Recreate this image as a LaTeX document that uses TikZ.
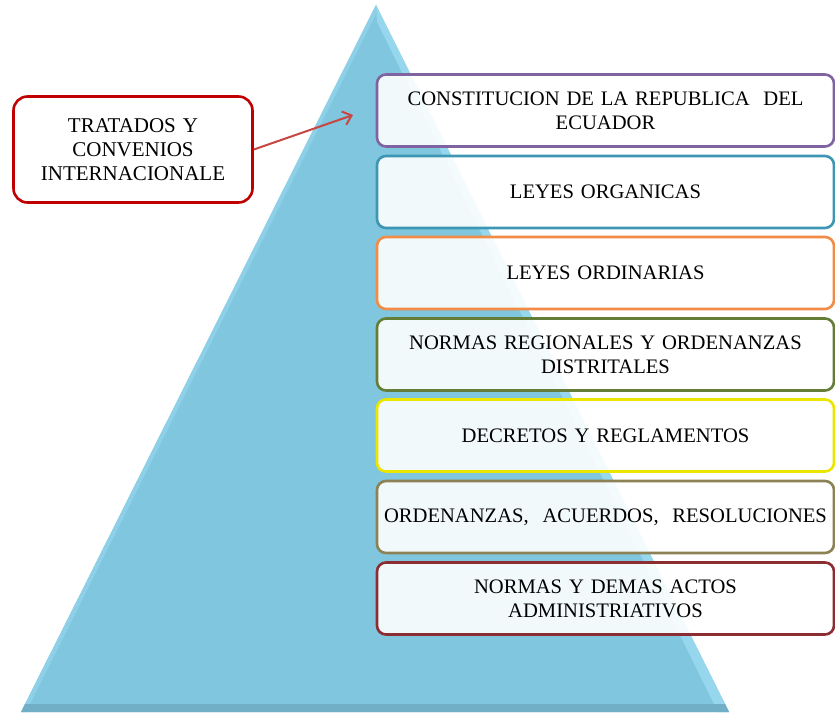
\documentclass[tikz,border=0pt]{standalone}
\usepackage{fontspec}
\setmainfont{Liberation Serif}
\usetikzlibrary{arrows.meta}
\definecolor{pyr}{RGB}{128,198,222}
\definecolor{pyrlight}{RGB}{150,215,238}
\definecolor{pyrdark}{RGB}{112,175,198}
\definecolor{cPurple}{RGB}{128,100,162}
\definecolor{cTeal}{RGB}{60,150,180}
\definecolor{cOrange}{RGB}{240,140,70}
\definecolor{cOlive}{RGB}{100,125,55}
\definecolor{cYellow}{RGB}{235,230,0}
\definecolor{cKhaki}{RGB}{140,130,85}
\definecolor{cDark}{RGB}{140,45,50}
\definecolor{cRed}{RGB}{192,0,0}
\definecolor{cArrow}{RGB}{200,70,65}
\tikzset{
  level/.style={draw=#1, line width=2.6pt, rounded corners=9pt, fill=white, fill opacity=0.9, text opacity=1,
    minimum width=457pt, minimum height=72pt, text width=448pt, align=center, inner sep=0pt,
    font=\fontsize{20.6}{24}\selectfont},
  sidebox/.style={draw=cRed, line width=2.6pt, rounded corners=14pt, fill=white,
    minimum width=239pt, minimum height=106pt, text width=232pt, align=center, inner sep=0pt,
    font=\fontsize{21}{24}\selectfont},
  link/.style={draw=cArrow, line width=2pt, -{Straight Barb[length=8pt,width=14pt]}}
}
\begin{document}
\begin{tikzpicture}[x=1pt,y=-1pt]
\useasboundingbox (0,0) rectangle (835,713);
% pyramid
\fill[pyr] (376,5) -- (729,712) -- (21,712) -- cycle;
\fill[pyrlight] (376,5) -- (729,712) -- (718,712) -- (377,22) -- cycle;
\fill[pyrlight!60!pyr] (376,5) -- (21,712) -- (26,712) -- (376,14) -- cycle;
\fill[pyrdark] (21,712) -- (729,712) -- (725,704) -- (25,704) -- cycle;
% levels
\node[level=cPurple] (l1) at (605.5,110.5) {CONSTITUCION DE LA REPUBLICA~ DEL\\ECUADOR};
\node[level=cTeal] (l2) at (605.5,192) {LEYES ORGANICAS};
\node[level=cOrange] (l3) at (605.5,273) {LEYES ORDINARIAS};
\node[level=cOlive] (l4) at (605.5,354.5) {NORMAS REGIONALES Y ORDENANZAS\\DISTRITALES};
\node[level=cYellow] (l5) at (605.5,435.5) {DECRETOS Y REGLAMENTOS};
\node[level=cKhaki] (l6) at (605.5,517) {ORDENANZAS,~ ACUERDOS,~ RESOLUCIONES};
\node[level=cDark] (l7) at (605.5,598.5) {NORMAS Y DEMAS ACTOS\\ADMINISTRIATIVOS};
% side box
\node[sidebox] (tr) at (133,149.5) {TRATADOS Y\\CONVENIOS\\INTERNACIONALE};
\coordinate (tip) at (353,115);
\draw[link] (tr.east) -- (tip);
\end{tikzpicture}
\end{document}
